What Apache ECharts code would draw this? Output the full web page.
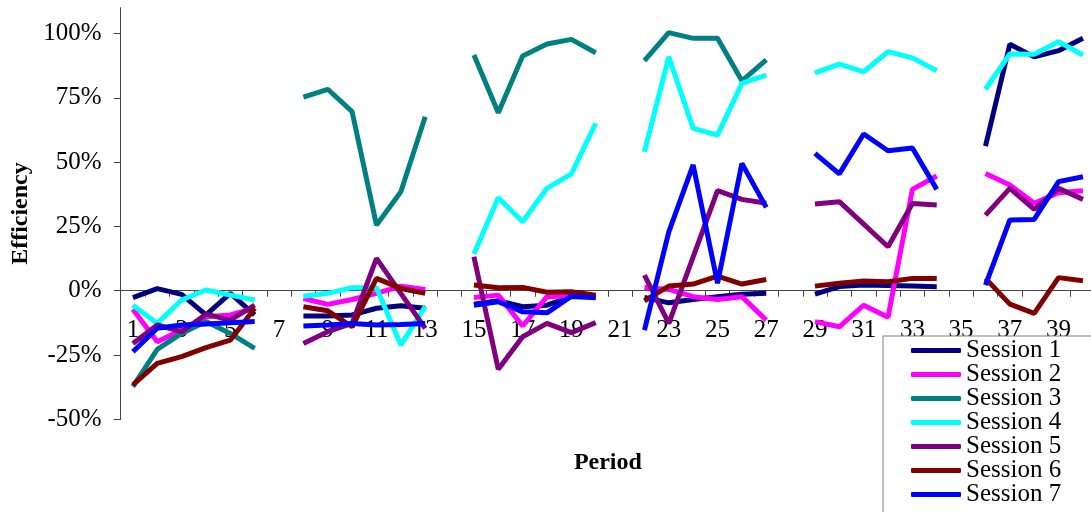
<!DOCTYPE html>
<html>
<head>
<meta charset="utf-8">
<title>Efficiency by Period</title>
<script src="https://cdn.jsdelivr.net/npm/echarts@6/dist/echarts.min.js"></script>
<style>
  html, body { margin: 0; padding: 0; background: #fff; }
  #chart { width: 1091px; height: 512px; }
</style>
</head>
<body>
<div id="chart"></div>
<script>
// Periods 1..40; periods 7, 14, 21, 28 and 35 separate the blocks (no data).
const periods = Array.from({ length: 40 }, (_, i) => String(i + 1));

// Efficiency per period, in percent (null = no observation).
const session1 = [
  -2.7, 0.8, -1.4, -9.4, -1.0, -9.4, null,
  -9.8, -9.8, -9.4, -6.8, -5.8, -6.8, null,
  -5.2, -3.9, -6.2, -5.6, -2.3, -2.3, null,
  -2.6, -4.7, -3.4, -2.3, -1.4, -1.0, null,
  -1.3, 1.6, 2.2, 2.0, 1.8, 1.6, null,
  56.2, 95.8, 90.9, 93.3, 98.1
];
const session2 = [
  -7.2, -19.8, -15.3, -10.1, -9.4, -6.8, null,
  -3.0, -5.3, -3.4, -1.0, 1.8, 0.5, null,
  -2.6, -1.7, -13.7, -2.3, -1.9, -1.9, null,
  1.3, 0.5, -2.3, -3.4, -2.3, -11.4, null,
  -12.0, -14.0, -5.6, -10.3, 39.4, 44.6, null,
  45.6, 41.1, 34.0, 38.1, 38.9
];
const session3 = [
  -37.3, -22.8, -16.6, -12.0, -16.6, -22.4, null,
  75.2, 78.3, 69.6, 25.5, 38.5, 67.6, null,
  91.6, 69.2, 91.2, 95.9, 97.7, 92.5, null,
  89.4, 100.3, 98.1, 98.1, 81.6, 89.7, null,
  null, null, null, null, null, null, null,
  null, null, null, null, null
];
const session4 = [
  -5.6, -12.7, -3.6, 0.3, -1.7, -3.6, null,
  -2.1, -1.0, 1.2, 1.2, -21.1, -6.2, null,
  14.3, 36.1, 26.8, 39.8, 45.4, 65.1, null,
  54.0, 90.9, 63.1, 60.5, 80.6, 83.8, null,
  84.7, 88.1, 85.1, 92.9, 90.5, 85.5, null,
  78.3, 92.0, 91.9, 96.8, 91.6
];
const session5 = [
  -20.5, -13.3, -15.9, -9.1, -11.4, -5.6, null,
  -20.5, -15.9, -12.7, 12.6, -1.0, -14.6, null,
  13.2, -30.5, -17.9, -12.7, -16.3, -12.4, null,
  6.1, -12.7, 13.2, 38.9, 35.5, 34.0, null,
  33.7, 34.6, 25.9, 17.1, 33.9, 33.3, null,
  29.4, 39.8, 31.6, 39.8, 35.5
];
const session6 = [
  -36.6, -28.2, -25.6, -22.1, -19.2, -6.8, null,
  -6.2, -7.8, -14.0, 4.8, 0.9, -1.0, null,
  2.2, 1.2, 1.3, -0.6, -0.4, -1.7, null,
  -3.9, 1.8, 2.6, 5.7, 2.6, 4.4, null,
  1.8, 2.9, 3.8, 3.5, 4.8, 4.8, null,
  4.8, -5.2, -8.8, 5.1, 3.9
];
const session7 = [
  -23.7, -14.6, -13.3, -12.9, -12.4, -12.0, null,
  -13.7, -13.3, -12.7, -13.3, -13.1, -12.7, null,
  -5.6, -4.3, -8.2, -8.6, -2.1, -2.7, null,
  -15.3, 22.9, 48.9, 2.9, 49.5, 32.4, null,
  53.4, 45.4, 60.9, 54.4, 55.5, 39.4, null,
  2.2, 27.5, 27.7, 42.4, 44.3
];

const seriesNames = ['Session 1', 'Session 2', 'Session 3', 'Session 4', 'Session 5', 'Session 6', 'Session 7'];
const seriesData = [session1, session2, session3, session4, session5, session6, session7];
const seriesColors = ['#000080', '#FF00FF', '#008080', '#00FFFF', '#800080', '#800000', '#0000FF'];

const FONT = "'Liberation Serif', 'Times New Roman', serif";
const AXIS_COLOR = '#444';

// Value range of the y axis and the plot box.
const Y_MIN = -50, Y_MAX = 110;
const GRID_TOP = 7.7, GRID_HEIGHT = 411.7;
// The period axis sits on the 0% line: shift it up from the bottom of the plot.
const zeroOffset = -GRID_HEIGHT * (0 - Y_MIN) / (Y_MAX - Y_MIN);

const chart = echarts.init(document.getElementById('chart'), null, { renderer: 'canvas' });

chart.setOption({
  animation: false,
  backgroundColor: '#fff',
  grid: {
    left: 120.7, top: GRID_TOP, width: 974.4, height: GRID_HEIGHT,
    containLabel: false, outerBoundsMode: 'none'
  },
  xAxis: {
    type: 'category',
    data: periods,
    boundaryGap: true,
    position: 'bottom',
    offset: zeroOffset,
    name: 'Period',
    nameLocation: 'middle',
    nameGap: 160,
    nameTextStyle: { fontFamily: FONT, fontSize: 24, fontWeight: 'bold', color: '#000' },
    axisLine: { onZero: false, lineStyle: { color: AXIS_COLOR, width: 1 } },
    axisTick: { show: true, interval: 0, length: 6, lineStyle: { color: AXIS_COLOR } },
    axisLabel: { interval: 1, margin: 27, fontFamily: FONT, fontSize: 25, color: '#000' },
    splitLine: { show: false }
  },
  yAxis: {
    type: 'value',
    min: Y_MIN,
    max: Y_MAX,
    interval: 25,
    name: 'Efficiency',
    nameLocation: 'middle',
    nameRotate: 90,
    nameGap: 88,
    nameTextStyle: { fontFamily: FONT, fontSize: 24, fontWeight: 'bold', color: '#000' },
    axisLine: { show: true, lineStyle: { color: AXIS_COLOR, width: 1 } },
    axisTick: { show: true, length: 7, lineStyle: { color: AXIS_COLOR } },
    axisLabel: {
      margin: 19, fontFamily: FONT, fontSize: 25, color: '#000',
      showMaxLabel: false,
      formatter: v => (v > 100 ? '' : v + '%')
    },
    splitLine: { show: false }
  },
  legend: {
    orient: 'vertical',
    left: 883,
    top: 336,
    height: 200,
    data: seriesNames,
    icon: 'roundRect',
    itemWidth: 50,
    itemHeight: 5,
    itemGap: -1,
    padding: [2, 60, 40, 28],
    backgroundColor: '#fff',
    borderColor: '#808080',
    borderWidth: 1,
    borderRadius: 0,
    textStyle: { fontFamily: FONT, fontSize: 25, lineHeight: 24, color: '#000' }
  },
  series: seriesNames.map((name, i) => ({
    name,
    type: 'line',
    data: seriesData[i],
    connectNulls: false,
    symbol: 'none',
    color: seriesColors[i],
    lineStyle: { width: 5, color: seriesColors[i] },
    emphasis: { disabled: true }
  }))
});
</script>
</body>
</html>
